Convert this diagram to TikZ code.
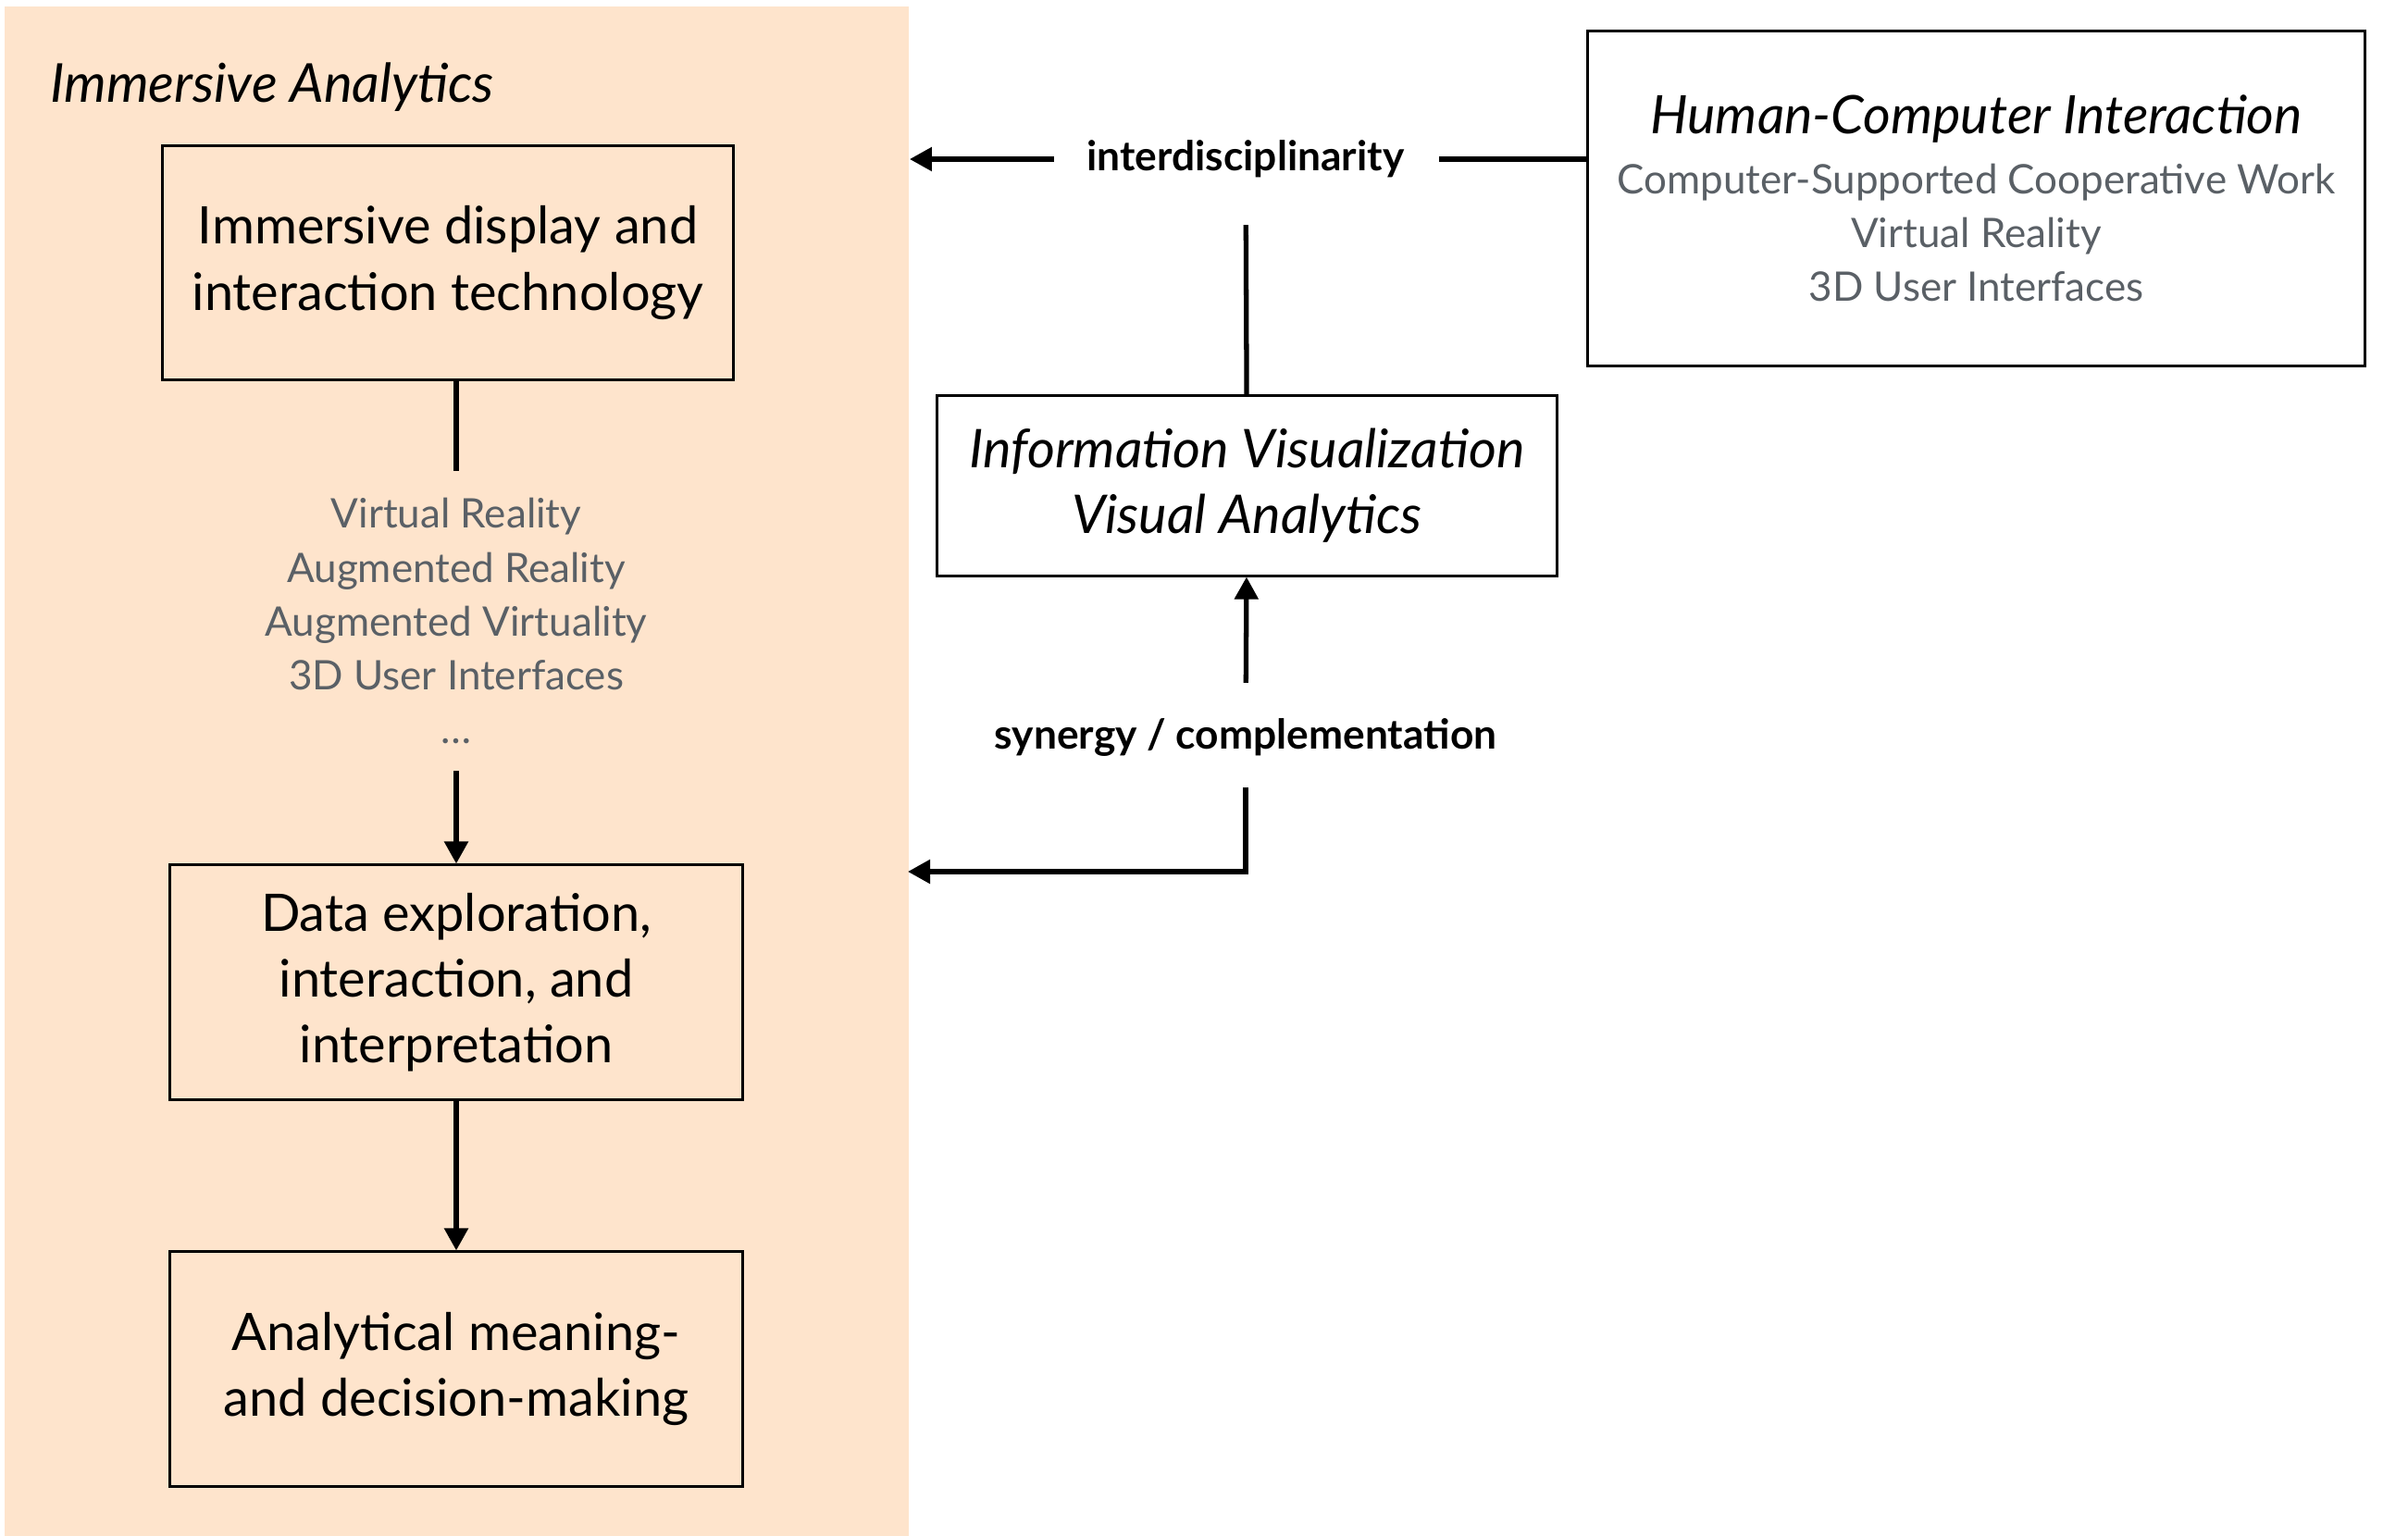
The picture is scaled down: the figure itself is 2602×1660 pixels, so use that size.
\documentclass[tikz,border=0pt]{standalone}
\usepackage{fontspec}
\setmainfont{Lato}
\usetikzlibrary{arrows.meta}

\definecolor{iapeach}{RGB}{254,228,204}
\definecolor{itemgray}{RGB}{90,96,102}

\newcommand{\boxfont}{\fontsize{15.9}{20.2}\selectfont}
\newcommand{\itemfont}{\fontsize{12.5}{16.5}\selectfont\color{itemgray}}
\newcommand{\relfont}{\fontsize{12.6}{14}\selectfont\bfseries}

\tikzset{
  stage/.style={draw, line width=0.85pt, align=center, font=\boxfont, inner sep=0pt},
  relation/.style={font=\relfont, inner sep=0pt},
  link/.style={line width=1.5pt},
  flow/.style={link, -{Triangle[length=0.24cm,width=0.25cm]}}
}

\begin{document}
\begin{tikzpicture}[x=0.01cm, y=-0.01cm]
	\useasboundingbox (0,0) rectangle (2602,1660);
	
	% Immersive Analytics region with its stages
	\node[fill=iapeach, anchor=north west, minimum width=9.77cm, minimum height=16.54cm, inner sep=0pt] (ia) at (4,6) {};
	\node[anchor=base west, font=\fontsize{16.5}{18}\selectfont\itshape] (ia-title) at (42,110) {Immersive Analytics};
	\node[stage, minimum width=6.16cm, minimum height=2.52cm] (display) at (484,284) {Immersive display and\\interaction technology};
	\node[font=\itemfont, align=center, inner xsep=0pt, inner ysep=0.29cm] (techs) at (493,671) {Virtual Reality\\Augmented Reality\\Augmented Virtuality\\3D User Interfaces\\\dots};
	\node[stage, minimum width=6.18cm, minimum height=2.53cm] (explore) at (493,1061.5) {Data exploration,\\interaction, and\\interpretation};
	\node[stage, minimum width=6.18cm, minimum height=2.53cm] (decide) at (493,1479.5) {Analytical meaning-\\and decision-making};
	
	% neighbouring fields
	\node[stage, font=\fontsize{16.4}{20.2}\selectfont\itshape, minimum width=6.69cm, minimum height=1.94cm] (infovis) at (1347.5,525) {Information Visualization\\Visual Analytics};
	\node[stage, font=\itemfont, minimum width=8.39cm, minimum height=3.62cm] (hci) at (2135.5,214.5) {{\fontsize{16.3}{16.5}\selectfont\itshape\color{black}Human-Computer Interaction}\\[2pt]Computer-Supported Cooperative Work\\Virtual Reality\\3D User Interfaces};
	
	% relation labels
	\node[relation] (inter) at (1346,172) {interdisciplinarity};
	\node[relation] (syn) at (1346,797) {synergy / complementation};
	\coordinate (ia-syn) at (981,942);
	
	% connectors
	\draw[link] (display.south -| techs) -- (techs.north);
	\draw[flow] (techs.south) -- (explore.north);
	\draw[flow] (explore) -- (decide);
	\draw[flow, shorten <=2.07cm] (inter.center) -- (inter -| ia.east);
	\draw[link, shorten <=2.09cm] (inter.center) -- (inter -| hci.west);
	\draw[link, shorten >=0.71cm] (infovis) -- (inter.center);
	\draw[flow, shorten <=0.59cm] (syn.center) -- (infovis);
	\draw[flow, shorten <=0.54cm] (syn.center) |- (ia-syn);
\end{tikzpicture}
\end{document}
